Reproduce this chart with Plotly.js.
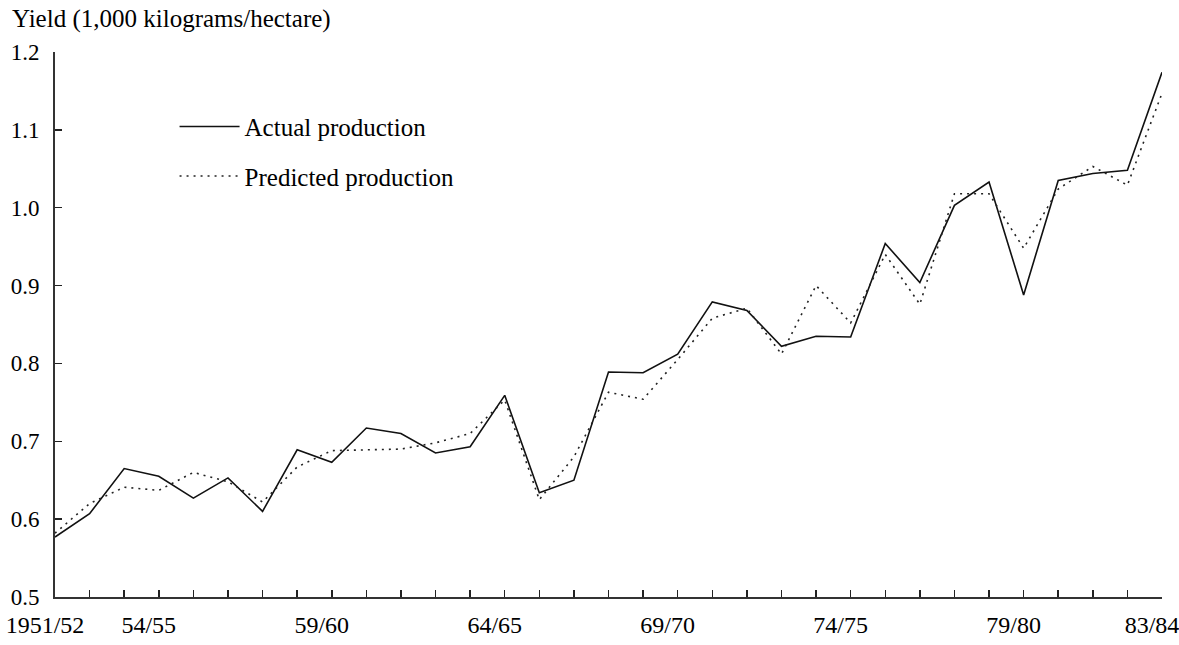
<!DOCTYPE html>
<html>
<head>
<meta charset="utf-8">
<script src="https://cdn.plot.ly/plotly-3.0.1.min.js"></script>
<style>html,body{margin:0;padding:0;background:#fff;}#chart{width:1179px;height:645px;}</style>
</head>
<body>
<div id="chart"></div>
<script>
var years = [1951,1952,1953,1954,1955,1956,1957,1958,1959,1960,1961,1962,1963,1964,1965,1966,1967,1968,1969,1970,1971,1972,1973,1974,1975,1976,1977,1978,1979,1980,1981,1982,1983];
var actual = [0.577,0.607,0.665,0.655,0.627,0.653,0.610,0.689,0.673,0.717,0.710,0.685,0.693,0.759,0.634,0.650,0.789,0.788,0.812,0.879,0.868,0.822,0.835,0.834,0.954,0.904,1.003,1.033,0.888,1.035,1.044,1.048,1.174];
var predicted = [0.582,0.620,0.641,0.637,0.660,0.648,0.622,0.667,0.688,0.689,0.690,0.698,0.710,0.753,0.625,0.680,0.763,0.754,0.805,0.858,0.871,0.812,0.900,0.852,0.940,0.876,1.018,1.018,0.948,1.024,1.053,1.029,1.147];
var tickLabels = ["1951/52","","","54/55","","","","","59/60","","","","","64/65","","","","","69/70","","","","","74/75","","","","","79/80","","","","83/84"];
var yTicks = [0.5,0.6,0.7,0.8,0.9,1.0,1.1,1.2];
var yTickLabels = ["0.5","0.6","0.7","0.8","0.9","1.0","1.1","1.2"];

var fam = "Liberation Serif, Times New Roman, serif";
var xTickFont = {family: fam, size: 24, color: "#000"};
var yTickFont = {family: fam, size: 23, color: "#000"};
var textFont = {family: fam, size: 25, color: "#000"};

var traces = [
  {x: years, y: actual, type: "scatter", mode: "lines", name: "Actual production",
   line: {color: "#111", width: 1.6}, legendgroup: "a"},
  {x: years, y: predicted, type: "scatter", mode: "lines", name: "Predicted production",
   line: {color: "#222", width: 1.6, dash: "2px,5px"}, legendgroup: "b"}
];

var layout = {
  width: 1179, height: 645,
  margin: {l: 55, r: 17, t: 52, b: 48},
  paper_bgcolor: "#fff", plot_bgcolor: "#fff",
  font: xTickFont,
  showlegend: true,
  title: {text: "Yield (1,000 kilograms/hectare)", font: textFont,
          xref: "container", x: 12/1179, xanchor: "left",
          yref: "container", y: 1 - 18/645, yanchor: "middle"},
  legend: {x: 0.108, y: 0.905, xanchor: "left", yanchor: "top",
           traceorder: "grouped", tracegroupgap: 14,
           font: textFont, bgcolor: "rgba(0,0,0,0)", itemwidth: 60},
  xaxis: {range: [1951, 1983], tickmode: "array", tickvals: years, ticktext: tickLabels,
          ticks: "inside", ticklen: 7, tickwidth: 1.5, tickcolor: "#222",
          showline: true, linecolor: "#333", linewidth: 1.8, showgrid: false, zeroline: false,
          ticklabelstandoff: 5, ticklabelshift: -10, ticklabeloverflow: "allow",
          tickfont: xTickFont, fixedrange: true},
  yaxis: {range: [0.5, 1.2], tickvals: yTicks, ticktext: yTickLabels,
          ticks: "inside", ticklen: 7, tickwidth: 1.5, tickcolor: "#222",
          showline: true, linecolor: "#333", linewidth: 1.8, showgrid: false, zeroline: false,
          ticklabelstandoff: 9, ticklabelshift: 0, tickfont: yTickFont, fixedrange: true}
};

Plotly.newPlot("chart", traces, layout, {displayModeBar: false, staticPlot: true});
</script>
</body>
</html>
